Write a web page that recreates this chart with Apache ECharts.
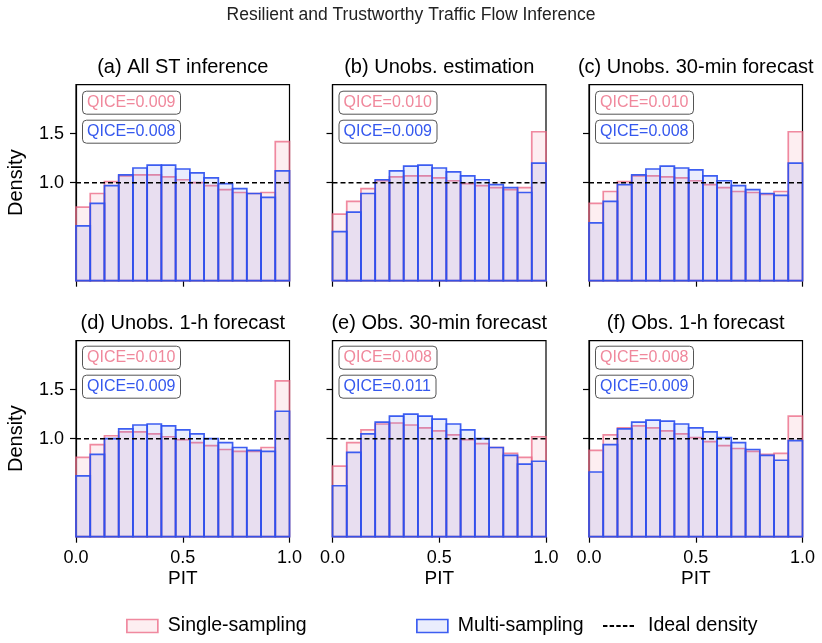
<!DOCTYPE html>
<html>
<head>
<meta charset="utf-8">
<script src="https://cdn.jsdelivr.net/npm/echarts@6/dist/echarts.min.js"></script>
<style>html,body{margin:0;padding:0;background:#fff}#c{width:822px;height:643px}</style>
</head>
<body>
<div id="c"></div>
<script>
const suptitle = 'Resilient and Trustworthy Traffic Flow Inference';
const panelTitles = ['(a) All ST inference','(b) Unobs. estimation','(c) Unobs. 30-min forecast','(d) Unobs. 1-h forecast','(e) Obs. 30-min forecast','(f) Obs. 1-h forecast'];
const nBins = 15;
const xTicks = [0.0, 0.5, 1.0];
const yTicks = [1.0, 1.5];
const idealDensity = 1.0;

const singleA = [0.75,0.89,1.01,1.07,1.08,1.08,1.06,1.03,1.00,0.97,0.93,0.90,0.89,0.90,1.42];
const multiA  = [0.56,0.79,0.97,1.08,1.15,1.18,1.18,1.14,1.10,1.05,0.99,0.94,0.89,0.85,1.12];
const singleB = [0.68,0.81,0.94,1.02,1.06,1.07,1.07,1.05,1.02,0.99,0.97,0.95,0.93,0.95,1.52];
const multiB  = [0.50,0.70,0.89,1.03,1.12,1.17,1.18,1.15,1.11,1.07,1.03,0.98,0.95,0.90,1.20];
const singleC = [0.79,0.91,1.01,1.07,1.07,1.06,1.05,1.02,0.98,0.95,0.91,0.90,0.88,0.91,1.52];
const multiC  = [0.59,0.81,0.98,1.08,1.14,1.17,1.15,1.13,1.07,1.02,0.97,0.93,0.89,0.87,1.20];
const singleD = [0.81,0.94,1.03,1.07,1.07,1.05,1.02,0.99,0.96,0.93,0.89,0.87,0.87,0.91,1.59];
const multiD  = [0.62,0.84,1.00,1.10,1.14,1.15,1.13,1.09,1.05,1.00,0.96,0.91,0.88,0.87,1.28];
const singleE = [0.72,0.96,1.09,1.15,1.16,1.14,1.11,1.08,1.04,0.99,0.95,0.91,0.85,0.81,1.02];
const multiE  = [0.52,0.86,1.05,1.17,1.23,1.25,1.23,1.20,1.15,1.09,1.00,0.91,0.83,0.74,0.77];
const singleF = [0.88,1.04,1.11,1.13,1.11,1.08,1.05,1.01,0.97,0.93,0.90,0.87,0.84,0.85,1.23];
const multiF  = [0.66,0.94,1.10,1.17,1.19,1.18,1.15,1.11,1.07,1.01,0.96,0.89,0.83,0.78,0.98];

const qiceSingle = ['0.009','0.010','0.010','0.010','0.008','0.008'];
const qiceMulti  = ['0.008','0.009','0.008','0.009','0.011','0.009'];

const singles = [singleA,singleB,singleC,singleD,singleE,singleF];
const multis  = [multiA,multiB,multiC,multiD,multiE,multiF];

const FONT = 'Liberation Sans, Arial, Helvetica, sans-serif';
const PINK_EDGE = 'rgba(235,100,130,0.75)';
const PINK_FILL = 'rgba(250,200,210,0.3)';
const BLUE_EDGE = 'rgba(45,80,240,0.92)';
const BLUE_FILL = 'rgba(80,110,235,0.12)';
const PINK_TEXT = '#f0889c';
const BLUE_TEXT = '#3558ee';

const lefts = [76, 332.5, 589];
const tops = [84.7, 340.7];
const W = 213.5, H = 196;

const grids = [], xAxes = [], yAxes = [], series = [], titles = [], graphics = [];

titles.push({text: suptitle, left: 'center', top: 6, padding: 0, textStyle:{fontFamily: FONT, fontSize: 17.5, fontWeight:'normal', color:'#222'}});

function makeRender(fill, stroke) {
  return function(params, api) {
    const i = api.value(0), v = api.value(1);
    const p0 = api.coord([i / nBins, v]);
    const p1 = api.coord([(i + 1) / nBins, 0]);
    return {type:'rect', shape:{x:p0[0], y:p0[1], width:p1[0]-p0[0], height:p1[1]-p0[1]},
      style:{fill: fill, stroke: stroke, lineWidth: 1.7}};
  };
}

for (let k = 0; k < 6; k++) {
  const r = Math.floor(k / 3), c = k % 3;
  const L = lefts[c], T = tops[r];
  grids.push({left: L, top: T, width: W, height: H, show: true, borderColor:'#000', borderWidth: 1.2, backgroundColor:'transparent'});
  xAxes.push({type:'value', gridIndex:k, min:0, max:1, interval:0.5,
    name: r === 1 ? 'PIT' : '', nameLocation:'middle', nameGap: 33,
    nameTextStyle:{fontFamily: FONT, fontSize: 19, color:'#000'},
    axisLine:{show:true, lineStyle:{color:'#000', width:1.2}},
    axisTick:{show:true, length:6, lineStyle:{color:'#000', width:1.2}},
    axisLabel:{show: r === 1, fontFamily: FONT, fontSize: 18, color:'#000', margin: 12, showMinLabel:true, showMaxLabel:true,
      formatter: v => v.toFixed(1)},
    splitLine:{show:false}});
  yAxes.push({type:'value', gridIndex:k, min:0, max:2,
    name: c === 0 ? 'Density' : '', nameLocation:'middle', nameGap: 50, nameRotate: 90,
    nameTextStyle:{fontFamily: FONT, fontSize: 20, color:'#000'},
    axisLine:{show:true, lineStyle:{color:'#000', width:1.2}},
    axisTick:{show:true, length:6, customValues: yTicks, lineStyle:{color:'#000', width:1.2}},
    axisLabel:{show: c === 0, customValues: yTicks, fontFamily: FONT, fontSize: 18, color:'#000', margin: 12,
      formatter: v => Number(v).toFixed(1)},
    splitLine:{show:false}});
  series.push({type:'custom', name:'Single-sampling', xAxisIndex:k, yAxisIndex:k, z:2,
    itemStyle:{color: PINK_FILL, borderColor: PINK_EDGE},
    renderItem: makeRender(PINK_FILL, PINK_EDGE),
    data: singles[k].map((v, i) => [i, v])});
  series.push({type:'custom', name:'Multi-sampling', xAxisIndex:k, yAxisIndex:k, z:3,
    itemStyle:{color: BLUE_FILL, borderColor: BLUE_EDGE},
    renderItem: makeRender(BLUE_FILL, BLUE_EDGE),
    data: multis[k].map((v, i) => [i, v])});
  series.push({type:'line', name:'Ideal density', xAxisIndex:k, yAxisIndex:k, z:4, symbol:'none', silent:true,
    lineStyle:{color:'#000', width:1.5, type:[5,3]},
    data: [[0, idealDensity],[1, idealDensity]]});
  graphics.push({type:'text', x: L + W/2, y: T - 17, z: 10,
    style:{text: panelTitles[k], fontFamily: FONT, fontSize: 20, fill:'#000', textAlign:'center', textVerticalAlign:'middle'}});
  titles.push({text: 'QICE=' + qiceSingle[k], left: L + 6, top: T + 6 - (r ? 1 : 0),
    padding:[3,5,3,5], borderColor:'#555', borderWidth:1, borderRadius:4, backgroundColor:'#fff',
    textStyle:{fontFamily: FONT, fontSize:16, fontWeight:'normal', color: PINK_TEXT, lineHeight:18}});
  titles.push({text: 'QICE=' + qiceMulti[k], left: L + 6, top: T + 35 - (r ? 1 : 0),
    padding:[3,5,3,5], borderColor:'#555', borderWidth:1, borderRadius:4, backgroundColor:'#fff',
    textStyle:{fontFamily: FONT, fontSize:16, fontWeight:'normal', color: BLUE_TEXT, lineHeight:18}});
}

const legendText = {fontFamily: FONT, fontSize: 19.5, color:'#000', padding:[0,0,0,5]};
const legends = [
  {left: 126, top: 616, padding: 0, itemWidth: 31, itemHeight: 13, textStyle: legendText,
   data:[{name:'Single-sampling', icon:'rect', itemStyle:{color: PINK_FILL, borderColor: PINK_EDGE, borderWidth:1.7}}]},
  {left: 416, top: 616, padding: 0, itemWidth: 31, itemHeight: 13, textStyle: legendText,
   data:[{name:'Multi-sampling', icon:'rect', itemStyle:{color: BLUE_FILL, borderColor: BLUE_EDGE, borderWidth:1.7}}]},
  {left: 603, top: 616, padding: 0, itemWidth: 31, itemHeight: 13, textStyle: {fontFamily: FONT, fontSize: 19.5, color:'#000', padding:[0,0,0,9]},
   data:[{name:'Ideal density', icon:'path://M0,5 L4,5 L4,7 L0,7 Z M6,5 L10,5 L10,7 L6,7 Z M12,5 L16,5 L16,7 L12,7 Z M18,5 L22,5 L22,7 L18,7 Z M24,5 L28,5 L28,7 L24,7 Z', itemStyle:{color:'#000', borderWidth:0}}]}
];

const chart = echarts.init(document.getElementById('c'), null, {renderer:'canvas'});
chart.setOption({
  animation: false,
  backgroundColor: '#fff',
  title: titles,
  legend: legends,
  grid: grids,
  xAxis: xAxes,
  yAxis: yAxes,
  series: series,
  graphic: graphics
});
</script>
</body>
</html>
